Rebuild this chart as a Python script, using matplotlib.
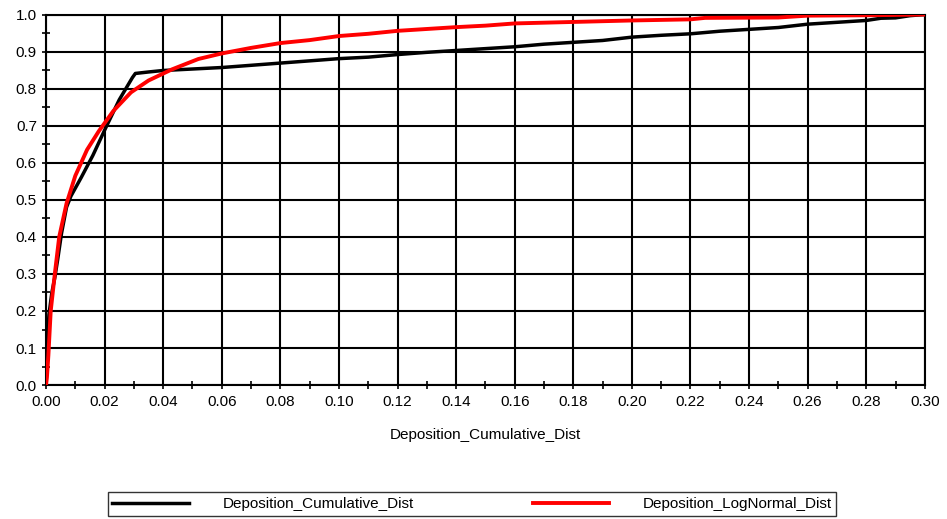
import numpy as np
import matplotlib.pyplot as plt
from matplotlib.ticker import MultipleLocator

plt.rcParams['font.family'] = ['Liberation Sans', 'DejaVu Sans']

# Deposition_Cumulative_Dist (black)
x_cum = [0.0, 0.0003, 0.001, 0.002, 0.003, 0.004, 0.0053, 0.007, 0.0085, 0.012, 0.016,
         0.020, 0.025, 0.0295, 0.0305, 0.035, 0.04, 0.05, 0.06, 0.07, 0.08, 0.09, 0.10,
         0.11, 0.12, 0.13, 0.14, 0.15, 0.16, 0.17, 0.18, 0.19, 0.20, 0.21, 0.22, 0.23,
         0.24, 0.25, 0.26, 0.27, 0.28, 0.285, 0.29, 0.295, 0.30]
y_cum = [0.0, 0.10, 0.19, 0.25, 0.29, 0.34, 0.41, 0.48, 0.51, 0.56, 0.62,
         0.688, 0.77, 0.83, 0.841, 0.845, 0.849, 0.853, 0.857, 0.863, 0.869, 0.875, 0.881,
         0.885, 0.892, 0.898, 0.903, 0.908, 0.913, 0.920, 0.925, 0.930, 0.939, 0.944, 0.948, 0.955,
         0.960, 0.965, 0.974, 0.979, 0.984, 0.990, 0.991, 0.997, 1.0]

# Deposition_LogNormal_Dist (red)
x_log = [0.0, 0.0003, 0.0008, 0.0016, 0.003, 0.0045, 0.007, 0.010, 0.014, 0.018, 0.023,
         0.029, 0.035, 0.043, 0.052, 0.06, 0.07, 0.08, 0.09, 0.10, 0.11, 0.12, 0.13,
         0.14, 0.15, 0.16, 0.18, 0.20, 0.22, 0.225, 0.25, 0.26, 0.28, 0.30]
y_log = [0.0, 0.02, 0.08, 0.20, 0.30, 0.40, 0.49, 0.565, 0.635, 0.685, 0.74,
         0.79, 0.822, 0.852, 0.880, 0.895, 0.910, 0.923, 0.931, 0.942, 0.948, 0.956, 0.961,
         0.966, 0.970, 0.976, 0.980, 0.984, 0.987, 0.991, 0.992, 0.997, 0.998, 1.0]

fig = plt.figure(figsize=(9.47, 5.19), dpi=100)
ax = fig.add_axes([0.0486, 0.258, 0.928, 0.714])

ax.plot(x_cum, y_cum, color='black', lw=2.5, label='Deposition_Cumulative_Dist', zorder=3)
ax.plot(x_log, y_log, color='red', lw=2.8, label='Deposition_LogNormal_Dist', zorder=4)

ax.set_xlim(0, 0.30)
ax.set_ylim(0, 1.0)
ax.xaxis.set_major_locator(MultipleLocator(0.02))
ax.xaxis.set_minor_locator(MultipleLocator(0.01))
ax.yaxis.set_major_locator(MultipleLocator(0.1))
ax.yaxis.set_minor_locator(MultipleLocator(0.05))
ax.xaxis.set_major_formatter(plt.FuncFormatter(lambda v, p: f'{v:.2f}'))
ax.yaxis.set_major_formatter(plt.FuncFormatter(lambda v, p: f'{v:.1f}'))
ax.tick_params(which='major', direction='inout', length=6, width=1.2, labelsize=11, colors='black')
ax.tick_params(which='minor', direction='inout', length=6, width=1.2)
ax.tick_params(axis='x', pad=4)
ax.grid(True, which='major', color='black', lw=1.5)
for s in ax.spines.values():
    s.set_linewidth(1.5)
    s.set_color('black')

ax.set_xlabel('Deposition_Cumulative_Dist', fontsize=11, labelpad=14)

# leyenda abajo, caja negra de esquinas rectas
leg = fig.legend(loc='center', bbox_to_anchor=(0.4985, 0.029), ncol=2, fontsize=11,
                 frameon=True, fancybox=False, edgecolor='black', handlelength=5,
                 columnspacing=7.8, borderpad=0.3, handletextpad=2.2)
leg.get_frame().set_linewidth(1.0)

fig.savefig('out.png', dpi=100)
